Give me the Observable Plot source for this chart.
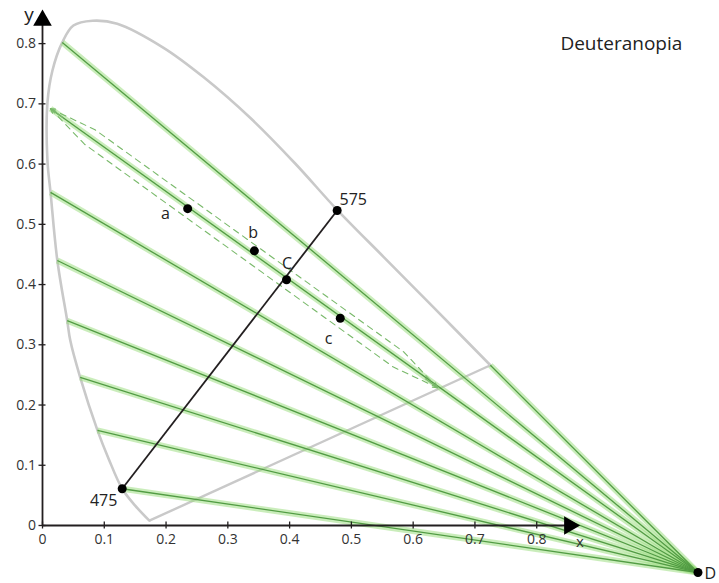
<!DOCTYPE html>
<html>
<head>
<meta charset="utf-8">
<script src="https://cdn.jsdelivr.net/npm/d3@7"></script>
<script src="https://cdn.jsdelivr.net/npm/@observablehq/plot@0.6"></script>
<style>
  html, body { margin: 0; padding: 0; background: #fff; }
  #chart { width: 719px; height: 583px; }
  svg { font-family: "Open Sans", sans-serif; }
</style>
</head>
<body>
<div id="chart"></div>
<script>
// Spectral locus (stylized CIE 1931 chromaticity outline), from 380 nm end to 700 nm end
const locusX = [0.173, 0.150, 0.129, 0.107, 0.089, 0.061, 0.045, 0.040, 0.024, 0.013, 0.008, 0.008, 0.016, 0.032, 0.050, 0.081, 0.121, 0.196, 0.261, 0.337, 0.409, 0.477, 0.552, 0.633, 0.725];
const locusY = [0.008, 0.033, 0.061, 0.111, 0.158, 0.246, 0.307, 0.340, 0.440, 0.553, 0.606, 0.702, 0.755, 0.802, 0.830, 0.838, 0.833, 0.793, 0.744, 0.676, 0.601, 0.524, 0.446, 0.362, 0.266];

// Deuteranopic copunctal point
const copunctal = {x: 1.061, y: -0.078, label: "D"};

// Left ends of confusion lines (on the locus)
const confX = [0.032, 0.013, 0.013, 0.024, 0.040, 0.061, 0.089, 0.129, 0.725];
const confY = [0.802, 0.692, 0.553, 0.440, 0.340, 0.246, 0.158, 0.061, 0.266];

// Dashed band around the confusion line through C
const dashUpperX = [0.013, 0.085, 0.585, 0.639];
const dashUpperY = [0.692, 0.657, 0.288, 0.229];
const dashLowerX = [0.013, 0.068, 0.568, 0.639];
const dashLowerY = [0.692, 0.633, 0.263, 0.229];
const bandArrows = [
  {x1: 0.0324, y1: 0.6779, x2: 0.0129, y2: 0.6921},
  {x1: 0.6197, y1: 0.2435, x2: 0.6392, y2: 0.2290}
];

// Labelled points
const pointNames = ["475", "575", "a", "b", "C", "c", "D"];
const pointX = [0.129, 0.477, 0.235, 0.343, 0.395, 0.482, 1.061];
const pointY = [0.061, 0.523, 0.526, 0.456, 0.408, 0.344, -0.078];
const labelX = [0.099, 0.503, 0.199, 0.341, 0.396, 0.463, 1.081];
const labelY = [0.041, 0.541, 0.518, 0.485, 0.435, 0.309, -0.080];

// Tick labels
const xTicks = [0, 0.1, 0.2, 0.3, 0.4, 0.5, 0.6, 0.7, 0.8];
const yTicks = [0, 0.1, 0.2, 0.3, 0.4, 0.5, 0.6, 0.7, 0.8];
const axisEnds = {x: 0.853, y: 0.8387};
const titleText = "Deuteranopia";

// ---- build tables
const locus = locusX.map((x, i) => ({x, y: locusY[i]}));
const conf = confX.map((x, i) => ({x, y: confY[i]}));
const dashU = dashUpperX.map((x, i) => ({x, y: dashUpperY[i]}));
const dashL = dashLowerX.map((x, i) => ({x, y: dashLowerY[i]}));
const pts = pointNames.map((n, i) => ({n, x: pointX[i], y: pointY[i], lx: labelX[i], ly: labelY[i]}));
const p475 = pts[0], p575 = pts[1];
const purple = [{x1: locus[0].x, y1: locus[0].y, x2: locus[locus.length - 1].x, y2: locus[locus.length - 1].y}];

const ink = "#231f20";
const green = "#529c44";

const plot = Plot.plot({
  width: 719,
  height: 583,
  marginLeft: 42,
  marginRight: 121,
  marginTop: 13,
  marginBottom: 58,
  x: {domain: [0, 0.9], axis: null},
  y: {domain: [0, 0.85], axis: null},
  style: {fontFamily: "Open Sans, sans-serif", background: "#fff", overflow: "visible"},
  marks: [
    // locus
    Plot.line(locus, {x: "x", y: "y", curve: "catmull-rom", stroke: "#c9c9c9", strokeWidth: 2.6}),
    Plot.link(purple, {x1: "x1", y1: "y1", x2: "x2", y2: "y2", stroke: "#c9c9c9", strokeWidth: 2.4}),
    // confusion lines: glow + core
    Plot.link(conf, {x1: "x", y1: "y", x2: () => copunctal.x, y2: () => copunctal.y,
      stroke: "#96dc78", strokeWidth: 6, strokeOpacity: 0.5, ariaLabel: "glow"}),
    Plot.link(conf, {x1: "x", y1: "y", x2: () => copunctal.x, y2: () => copunctal.y,
      stroke: green, strokeWidth: 1.3}),
    // dashed band
    Plot.line(dashU, {x: "x", y: "y", stroke: "#79b96a", strokeWidth: 1.1, strokeDasharray: "6,5"}),
    Plot.line(dashL, {x: "x", y: "y", stroke: "#79b96a", strokeWidth: 1.1, strokeDasharray: "6,5"}),
    Plot.arrow(bandArrows, {x1: "x1", y1: "y1", x2: "x2", y2: "y2", stroke: "#79b96a", strokeWidth: 1.3, headLength: 7}),
    // axes
    Plot.ruleY([0], {x1: 0, x2: axisEnds.x, stroke: ink, strokeWidth: 1.8}),
    Plot.ruleX([0], {y1: 0, y2: axisEnds.y, stroke: ink, strokeWidth: 1.8}),
    Plot.dot([axisEnds], {x: "x", y: 0, symbol: "triangle", r: 6.9, rotate: 90, fill: "#000", stroke: "none"}),
    Plot.dot([axisEnds], {x: 0, y: "y", symbol: "triangle", r: 6.9, fill: "#000", stroke: "none"}),
    Plot.axisX(xTicks, {tickSize: 7, dy: -3.5, tickPadding: 5, fontSize: 14, color: "#333", stroke: ink, strokeWidth: 1.3, tickFormat: d => String(d), label: null}),
    Plot.axisY(yTicks, {tickSize: 7, dx: 3.5, tickPadding: 3, fontSize: 14, color: "#333", stroke: ink, strokeWidth: 1.3, tickFormat: d => String(d), label: null}),
    Plot.text(["x"], {x: 0.870, y: -0.028, fontSize: 15, fill: "#333"}),
    Plot.text(["y"], {x: -0.022, y: 0.848, fontSize: 19, fill: "#222"}),
    // 475 - 575 line
    Plot.link([{x1: p475.x, y1: p475.y, x2: p575.x, y2: p575.y}], {x1: "x1", y1: "y1", x2: "x2", y2: "y2", stroke: ink, strokeWidth: 1.8}),
    // points and labels
    Plot.dot(pts, {x: "x", y: "y", r: 4.5, fill: "#000"}),
    Plot.text(pts, {x: "lx", y: "ly", text: "n", fontSize: 16, fill: "#222"}),
    // title
    Plot.text([titleText], {x: 0.937, y: 0.800, fontSize: 19, fill: "#222"})
  ]
});

// blur filter for the glow layer
const svg = d3.select(plot);
const defs = svg.insert("defs", ":first-child");
defs.append("filter").attr("id", "glowBlur").attr("x", "-20%").attr("y", "-20%").attr("width", "140%").attr("height", "140%")
  .append("feGaussianBlur").attr("stdDeviation", 2.2);
svg.selectAll('g[aria-label="glow"]').attr("filter", "url(#glowBlur)");

document.getElementById("chart").appendChild(plot);
</script>
</body>
</html>
